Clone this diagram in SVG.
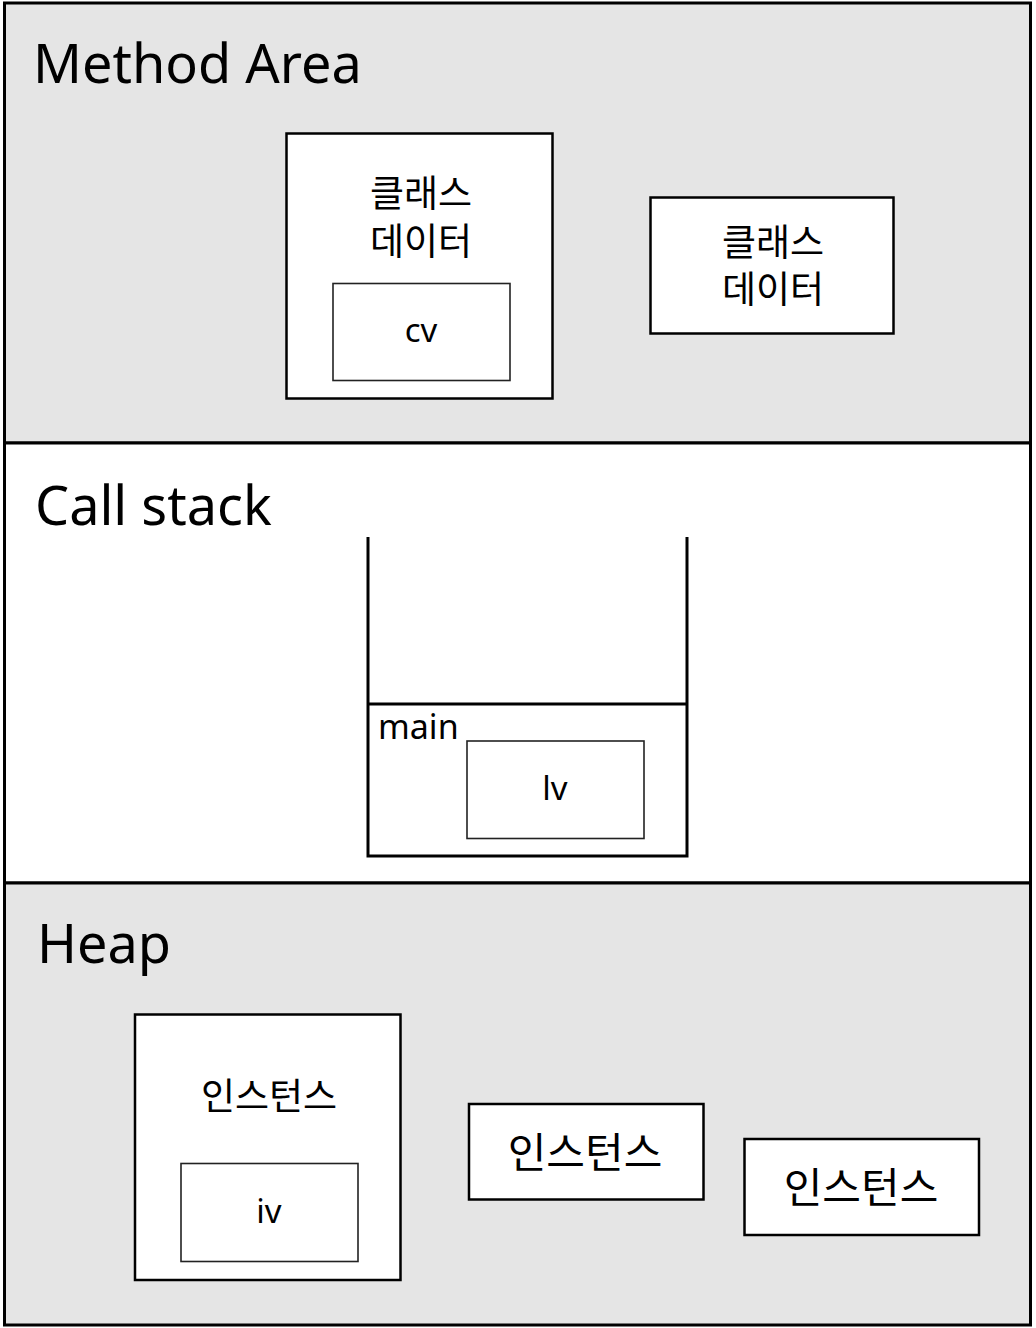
<svg xmlns="http://www.w3.org/2000/svg" width="1036" height="1328" viewBox="0 0 1036 1328">
<style>
.band{stroke:#000;stroke-width:3}
.gray{fill:#e5e5e5}
.white{fill:#fff}
.box{fill:#fff;stroke:#000;stroke-width:2.5}
.inner{fill:#fff;stroke:#222;stroke-width:1.6}
.title{font-family:"Noto Sans","Open Sans","Liberation Sans",sans-serif;font-size:54px;fill:#000}
.t{font-family:"Noto Sans CJK KR","Noto Sans",sans-serif;font-size:37px;fill:#000;text-anchor:middle}
.tb{font-family:"Noto Sans CJK KR","Noto Sans",sans-serif;font-size:42px;fill:#000;text-anchor:middle}
.v{font-family:"Noto Sans","Open Sans",sans-serif;font-size:33px;fill:#000;text-anchor:middle}
.stk{fill:none;stroke:#000;stroke-width:3}
</style>
<rect width="1036" height="1328" fill="#fff"/>
<g id="method-area">
<rect class="band gray" x="4.5" y="3" width="1026" height="440"/>
<text class="title" x="33" y="83">Method Area</text>
</g>
<g id="call-stack">
<rect class="band white" x="4.5" y="443" width="1026" height="440"/>
<text class="title" x="35" y="525">Call stack</text>
</g>
<g id="heap">
<rect class="band gray" x="4.5" y="883" width="1026" height="442"/>
<text class="title" x="37" y="963">Heap</text>
</g>
<g id="class-data-1">
<rect class="box" x="286.5" y="133.5" width="266" height="265"/>
<text class="t" x="421" y="207">클래스<tspan x="421" dy="48">데이터</tspan></text>
</g>
<g id="cv">
<rect class="inner" x="333" y="283.5" width="177" height="97"/>
<text class="v" x="421" y="342">cv</text>
</g>
<g id="class-data-2">
<rect class="box" x="650.5" y="197.5" width="243" height="136"/>
<text class="t" x="773" y="256">클래스<tspan x="773" dy="47">데이터</tspan></text>
</g>
<g id="stack">
<path class="stk" d="M368 537 V856 H687 V537"/>
<line class="stk" x1="368" y1="704" x2="688" y2="704" stroke-width="2.5"/>
<text class="v" x="378" y="739" style="text-anchor:start;font-size:34px">main</text>
</g>
<g id="lv">
<rect class="inner" x="467" y="741" width="177" height="97.5"/>
<text class="v" x="555" y="800">lv</text>
</g>
<g id="instance-1">
<rect class="box" x="135" y="1014.5" width="265.5" height="265.5"/>
<text class="t" x="269" y="1110">인스턴스</text>
</g>
<g id="iv">
<rect class="inner" x="181" y="1163.5" width="177" height="98"/>
<text class="v" x="269" y="1223">iv</text>
</g>
<g id="instance-2">
<rect class="box" x="469" y="1104" width="234.5" height="95.5"/>
<text class="tb" x="585" y="1168">인스턴스</text>
</g>
<g id="instance-3">
<rect class="box" x="744.5" y="1139" width="234.5" height="96"/>
<text class="tb" x="861" y="1203">인스턴스</text>
</g>
<g id="connectors"></g>
</svg>
